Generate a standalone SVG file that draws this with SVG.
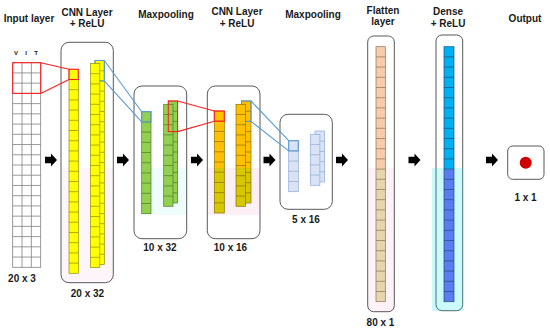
<svg xmlns="http://www.w3.org/2000/svg" width="550" height="331" viewBox="0 0 550 331">
<style>
text{font-family:"Liberation Sans",Arial,sans-serif;font-weight:bold;fill:#1a1a1a;text-anchor:middle}
.t{font-size:10px}
.s{font-size:6px}
.box{fill:none;stroke:#595959;stroke-width:1}
.grid{fill:none;stroke:#808080;stroke-width:0.8}
.y{stroke:#8f8f00;stroke-width:0.7;fill:none}
.g{stroke:#4e7a2a;stroke-width:0.7;fill:none}
.o{stroke:#8a6d00;stroke-width:0.7;fill:none}
.b{stroke:#8faadc;stroke-width:0.7;fill:none}
.f{stroke:#8c7355;stroke-width:0.7;fill:none}
.d{stroke:#1f4e79;stroke-width:0.7;fill:none}
.red{fill:none;stroke:#ff2020;stroke-width:1.1}
.blue{fill:none;stroke:#5b9bd5;stroke-width:1.1}
</style>
<defs>
<path id="arr" d="M0,-3.2 h6 v-3.3 l6,6.5 l-6,6.5 v-3.3 h-6 z" fill="#000"/>
</defs>
<rect width="550" height="331" fill="#fff"/>

<g id="input">
<text class="t" x="29" y="22">Input layer</text>
<text class="s" x="16" y="55">V</text>
<text class="s" x="26" y="55">I</text>
<text class="s" x="36" y="55">T</text>
<rect class="grid" x="12.7" y="62.7" width="28" height="204.6"/>
<path class="grid" d="M22.03 62.7V267.3M31.37 62.7V267.3M12.7 72.93h28M12.7 83.16h28M12.7 93.39h28M12.7 103.62h28M12.7 113.85h28M12.7 124.08h28M12.7 134.31h28M12.7 144.54h28M12.7 154.77h28M12.7 165h28M12.7 175.23h28M12.7 185.46h28M12.7 195.69h28M12.7 205.92h28M12.7 216.15h28M12.7 226.38h28M12.7 236.61h28M12.7 246.84h28M12.7 257.07h28"/>
<rect class="red" x="12.7" y="62.7" width="28" height="30.69"/>
<text class="t" x="22" y="282">20 x 3</text>
</g>

<g id="cnn1">
<text class="t" x="87" y="15.5">CNN Layer</text>
<text class="t" x="87" y="27">+ ReLU</text>
<rect x="61" y="168" width="52" height="114" fill="#fdf5f9"/>
<rect class="box" x="61" y="42.3" width="52.3" height="240.4" rx="8"/>
<rect x="69" y="69.3" width="9.3" height="204" fill="#ffff00"/>
<rect class="y" x="69" y="69.3" width="9.3" height="204"/>
<path class="y" d="M69 79.5h9.3M69 89.7h9.3M69 99.9h9.3M69 110.1h9.3M69 120.3h9.3M69 130.5h9.3M69 140.7h9.3M69 150.9h9.3M69 161.1h9.3M69 171.3h9.3M69 181.5h9.3M69 191.7h9.3M69 201.9h9.3M69 212.1h9.3M69 222.3h9.3M69 232.5h9.3M69 242.7h9.3M69 252.9h9.3M69 263.1h9.3"/>
<rect class="red" x="69" y="69.3" width="9.3" height="10.2"/>
<rect x="95" y="60.5" width="9.3" height="204" fill="#ffff00"/>
<rect class="y" x="95" y="60.5" width="9.3" height="204"/>
<path class="y" d="M95 70.7h9.3M95 80.9h9.3M95 91.1h9.3M95 101.3h9.3M95 111.5h9.3M95 121.7h9.3M95 131.9h9.3M95 142.1h9.3M95 152.3h9.3M95 162.5h9.3M95 172.7h9.3M95 182.9h9.3M95 193.1h9.3M95 203.3h9.3M95 213.5h9.3M95 223.7h9.3M95 233.9h9.3M95 244.1h9.3M95 254.3h9.3"/>
<rect class="blue" x="95" y="60.5" width="9.3" height="20.4"/>
<rect x="90.5" y="63.5" width="9.3" height="204" fill="#ffff00"/>
<rect class="y" x="90.5" y="63.5" width="9.3" height="204"/>
<path class="y" d="M90.5 73.7h9.3M90.5 83.9h9.3M90.5 94.1h9.3M90.5 104.3h9.3M90.5 114.5h9.3M90.5 124.7h9.3M90.5 134.9h9.3M90.5 145.1h9.3M90.5 155.3h9.3M90.5 165.5h9.3M90.5 175.7h9.3M90.5 185.9h9.3M90.5 196.1h9.3M90.5 206.3h9.3M90.5 216.5h9.3M90.5 226.7h9.3M90.5 236.9h9.3M90.5 247.1h9.3M90.5 257.3h9.3"/>
<text class="t" x="87.5" y="297">20 x 32</text>
</g>

<g id="maxpool1">
<text class="t" x="166" y="18">Maxpooling</text>
<rect x="141" y="168" width="46" height="47" fill="#effcfc"/>
<rect class="box" x="134" y="86" width="52.7" height="152.7" rx="8"/>
<rect x="141.7" y="111.7" width="9.3" height="102" fill="#92d050"/>
<rect class="g" x="141.7" y="111.7" width="9.3" height="102"/>
<path class="g" d="M141.7 121.9h9.3M141.7 132.1h9.3M141.7 142.3h9.3M141.7 152.5h9.3M141.7 162.7h9.3M141.7 172.9h9.3M141.7 183.1h9.3M141.7 193.3h9.3M141.7 203.5h9.3"/>
<rect class="blue" x="141.7" y="111.7" width="9.3" height="10.2"/>
<rect x="168.3" y="101" width="9.3" height="102" fill="#92d050"/>
<rect class="g" x="168.3" y="101" width="9.3" height="102"/>
<path class="g" d="M168.3 111.2h9.3M168.3 121.4h9.3M168.3 131.6h9.3M168.3 141.8h9.3M168.3 152h9.3M168.3 162.2h9.3M168.3 172.4h9.3M168.3 182.6h9.3M168.3 192.8h9.3"/>
<rect x="163.7" y="104.3" width="9.3" height="102" fill="#92d050"/>
<rect class="g" x="163.7" y="104.3" width="9.3" height="102"/>
<path class="g" d="M163.7 114.5h9.3M163.7 124.7h9.3M163.7 134.9h9.3M163.7 145.1h9.3M163.7 155.3h9.3M163.7 165.5h9.3M163.7 175.7h9.3M163.7 185.9h9.3M163.7 196.1h9.3"/>
<rect class="red" x="168.3" y="101" width="9.3" height="30.6"/>
<text class="t" x="160" y="251">10 x 32</text>
</g>

<g id="cnn2">
<text class="t" x="237" y="15">CNN Layer</text>
<text class="t" x="237" y="26.5">+ ReLU</text>
<rect x="207.3" y="168" width="52.7" height="47" fill="#fcf0f7"/>
<rect class="box" x="207.3" y="86" width="52.7" height="152.7" rx="8"/>
<rect x="214.3" y="111" width="10" height="57" fill="#ffc000"/>
<rect x="214.3" y="168" width="10" height="45" fill="#d6c800"/>
<rect class="o" x="214.3" y="111" width="10" height="102"/>
<path class="o" d="M214.3 121.2h10M214.3 131.4h10M214.3 141.6h10M214.3 151.8h10M214.3 162h10M214.3 172.2h10M214.3 182.4h10M214.3 192.6h10M214.3 202.8h10"/>
<rect class="red" x="214.3" y="111" width="10" height="10.2"/>
<rect x="241.5" y="101" width="9.5" height="67" fill="#ffc000"/>
<rect x="241.5" y="168" width="9.5" height="35" fill="#d6c800"/>
<rect class="o" x="241.5" y="101" width="9.5" height="102"/>
<path class="o" d="M241.5 111.2h9.5M241.5 121.4h9.5M241.5 131.6h9.5M241.5 141.8h9.5M241.5 152h9.5M241.5 162.2h9.5M241.5 172.4h9.5M241.5 182.6h9.5M241.5 192.8h9.5"/>
<rect class="blue" x="241.5" y="101" width="9.5" height="20.4"/>
<rect x="236" y="104.3" width="9.5" height="63.7" fill="#ffc000"/>
<rect x="236" y="168" width="9.5" height="38.3" fill="#d6c800"/>
<rect class="o" x="236" y="104.3" width="9.5" height="102"/>
<path class="o" d="M236 114.5h9.5M236 124.7h9.5M236 134.9h9.5M236 145.1h9.5M236 155.3h9.5M236 165.5h9.5M236 175.7h9.5M236 185.9h9.5M236 196.1h9.5"/>
<text class="t" x="230.5" y="251">10 x 16</text>
</g>

<g id="maxpool2">
<text class="t" x="313" y="18">Maxpooling</text>
<rect class="box" x="280" y="114.3" width="52.3" height="95" rx="8"/>
<rect x="288.7" y="140.7" width="9.6" height="51" fill="#dae3f3"/>
<rect class="b" x="288.7" y="140.7" width="9.6" height="51"/>
<path class="b" d="M288.7 150.9h9.6M288.7 161.1h9.6M288.7 171.3h9.6M288.7 181.5h9.6"/>
<rect class="blue" x="288.7" y="140.7" width="9.6" height="10.2"/>
<rect x="315" y="131" width="9.6" height="51" fill="#dae3f3"/>
<rect class="b" x="315" y="131" width="9.6" height="51"/>
<path class="b" d="M315 141.2h9.6M315 151.4h9.6M315 161.6h9.6M315 171.8h9.6"/>
<rect x="310.3" y="134.3" width="9.6" height="51" fill="#dae3f3"/>
<rect class="b" x="310.3" y="134.3" width="9.6" height="51"/>
<path class="b" d="M310.3 144.5h9.6M310.3 154.7h9.6M310.3 164.9h9.6M310.3 175.1h9.6"/>
<text class="t" x="306" y="223">5 x 16</text>
</g>

<g id="flatten">
<text class="t" x="383" y="13.5">Flatten</text>
<text class="t" x="383" y="25">layer</text>
<rect x="367.7" y="168" width="26.6" height="143.7" fill="#fcf2f7"/>
<rect class="box" x="367.7" y="36" width="26.6" height="275.7" rx="6"/>
<rect x="376" y="46.7" width="9.3" height="122.4" fill="#f8cbad"/>
<rect x="376" y="169.1" width="9.3" height="132.6" fill="#e6d6b0"/>
<rect class="f" x="376" y="46.7" width="9.3" height="255"/>
<path class="f" d="M376 56.9h9.3M376 67.1h9.3M376 77.3h9.3M376 87.5h9.3M376 97.7h9.3M376 107.9h9.3M376 118.1h9.3M376 128.3h9.3M376 138.5h9.3M376 148.7h9.3M376 158.9h9.3M376 169.1h9.3M376 179.3h9.3M376 189.5h9.3M376 199.7h9.3M376 209.9h9.3M376 220.1h9.3M376 230.3h9.3M376 240.5h9.3M376 250.7h9.3M376 260.9h9.3M376 271.1h9.3M376 281.3h9.3M376 291.5h9.3"/>
<text class="t" x="380.5" y="326">80 x 1</text>
</g>

<g id="dense">
<text class="t" x="448" y="15">Dense</text>
<text class="t" x="448" y="27">+ ReLU</text>
<rect class="box" x="436" y="35" width="26.7" height="275.7" rx="6"/>
<rect x="432" y="168" width="31" height="143" fill="#00e0e0" fill-opacity="0.2"/>
<rect x="444" y="46.7" width="10" height="122.4" fill="#00b0f0"/>
<rect x="444" y="169.1" width="10" height="132.6" fill="#5a7cf0"/>
<rect class="d" x="444" y="46.7" width="10" height="255"/>
<path class="d" d="M444 56.9h10M444 67.1h10M444 77.3h10M444 87.5h10M444 97.7h10M444 107.9h10M444 118.1h10M444 128.3h10M444 138.5h10M444 148.7h10M444 158.9h10M444 169.1h10M444 179.3h10M444 189.5h10M444 199.7h10M444 209.9h10M444 220.1h10M444 230.3h10M444 240.5h10M444 250.7h10M444 260.9h10M444 271.1h10M444 281.3h10M444 291.5h10"/>
</g>

<g id="output">
<text class="t" x="525" y="22">Output</text>
<rect class="box" x="507.7" y="146" width="36.3" height="33.3" rx="5"/>
<circle cx="525.7" cy="162.7" r="6" fill="#d00000"/>
<text class="t" x="525.5" y="201">1 x 1</text>
</g>

<g id="connectors">
<path class="red" d="M40.7 62.7L69 69.3M40.7 93.39L69 79.5"/>
<path class="blue" d="M104.3 60.5L141.7 111.7M104.3 80.9L141.7 121.9"/>
<path class="red" d="M177.6 101L214.3 111M177.6 131.6L214.3 121.2"/>
<path class="blue" d="M251 101L288.7 140.7M251 121.4L288.7 150.9"/>
<use href="#arr" x="45" y="160"/>
<use href="#arr" x="117" y="160"/>
<use href="#arr" x="191" y="160"/>
<use href="#arr" x="263.5" y="160"/>
<use href="#arr" x="336" y="160"/>
<use href="#arr" x="408.5" y="160"/>
<use href="#arr" x="486" y="160"/>
</g>
</svg>
